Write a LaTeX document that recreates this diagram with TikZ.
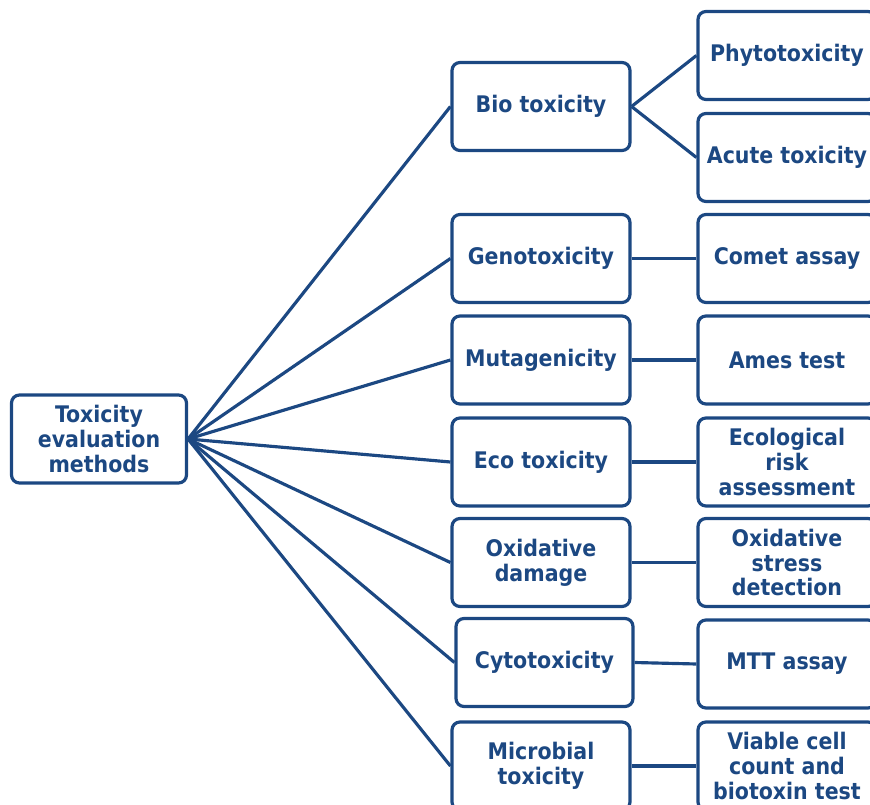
\documentclass[tikz,border=0pt]{standalone}
\usepackage{fontspec}
\newfontfamily\boxfont{DejaVu Sans Condensed Bold}
\usepackage{tikz}
\definecolor{toxblue}{RGB}{28,72,130}

\begin{document}
\begin{tikzpicture}[x=0.02cm,y=-0.02cm,line width=1.8pt,
                    box/.style={draw=toxblue,rounded corners=4.5pt,text=toxblue,align=center,
                    minimum width=3.56cm,minimum height=1.76cm,
                    font=\boxfont\fontsize{13}{14.2}\selectfont}]
  \clip (0,0) rectangle (870,805);
  \node[box,minimum width=3.5cm] (tox) at (99,439) {Toxicity\\evaluation\\methods};

  \node[box] (bio)   at (541,106.5) {Bio toxicity};
  \node[box] (geno)  at (541,258.5) {Genotoxicity};
  \node[box] (muta)  at (541,360)   {Mutagenicity};
  \node[box] (eco)   at (541,462)   {Eco toxicity};
  \node[box] (oxid)  at (541,562.5) {Oxidative\\damage};
  \node[box,minimum width=3.54cm] (cyto) at (544.5,662.5) {Cytotoxicity};
  \node[box] (micro) at (541,766)   {Microbial\\toxicity};

  \node[box] (phyto)  at (787,55.5)  {Phytotoxicity};
  \node[box] (acute)  at (787,157.5) {Acute toxicity};
  \node[box] (comet)  at (787,258.5) {Comet assay};
  \node[box] (ames)   at (787,360)   {Ames test};
  \node[box] (risk)   at (787,462)   {Ecological\\risk\\assessment};
  \node[box] (stress) at (787,562.5) {Oxidative\\stress\\detection};
  \node[box] (mtt)    at (787,664)   {MTT assay};
  \node[box] (viable) at (787,766)   {Viable cell\\count and\\biotoxin test};

  \path[draw=toxblue] (tox.east) edge (bio.west)
                                 edge (geno.west)
                                 edge (muta.west)
                                 edge (eco.west)
                                 edge (oxid.west)
                                 edge (cyto.west)
                                 edge (micro.west)
        (bio.east) edge (phyto.west)
                   edge (acute.west)
        (geno.east) edge (comet.west)
        (muta.east) edge (ames.west)
        (eco.east) edge (risk.west)
        (oxid.east) edge (stress.west)
        (cyto.east) edge (mtt.west)
        (micro.east) edge (viable.west);
\end{tikzpicture}
\end{document}
